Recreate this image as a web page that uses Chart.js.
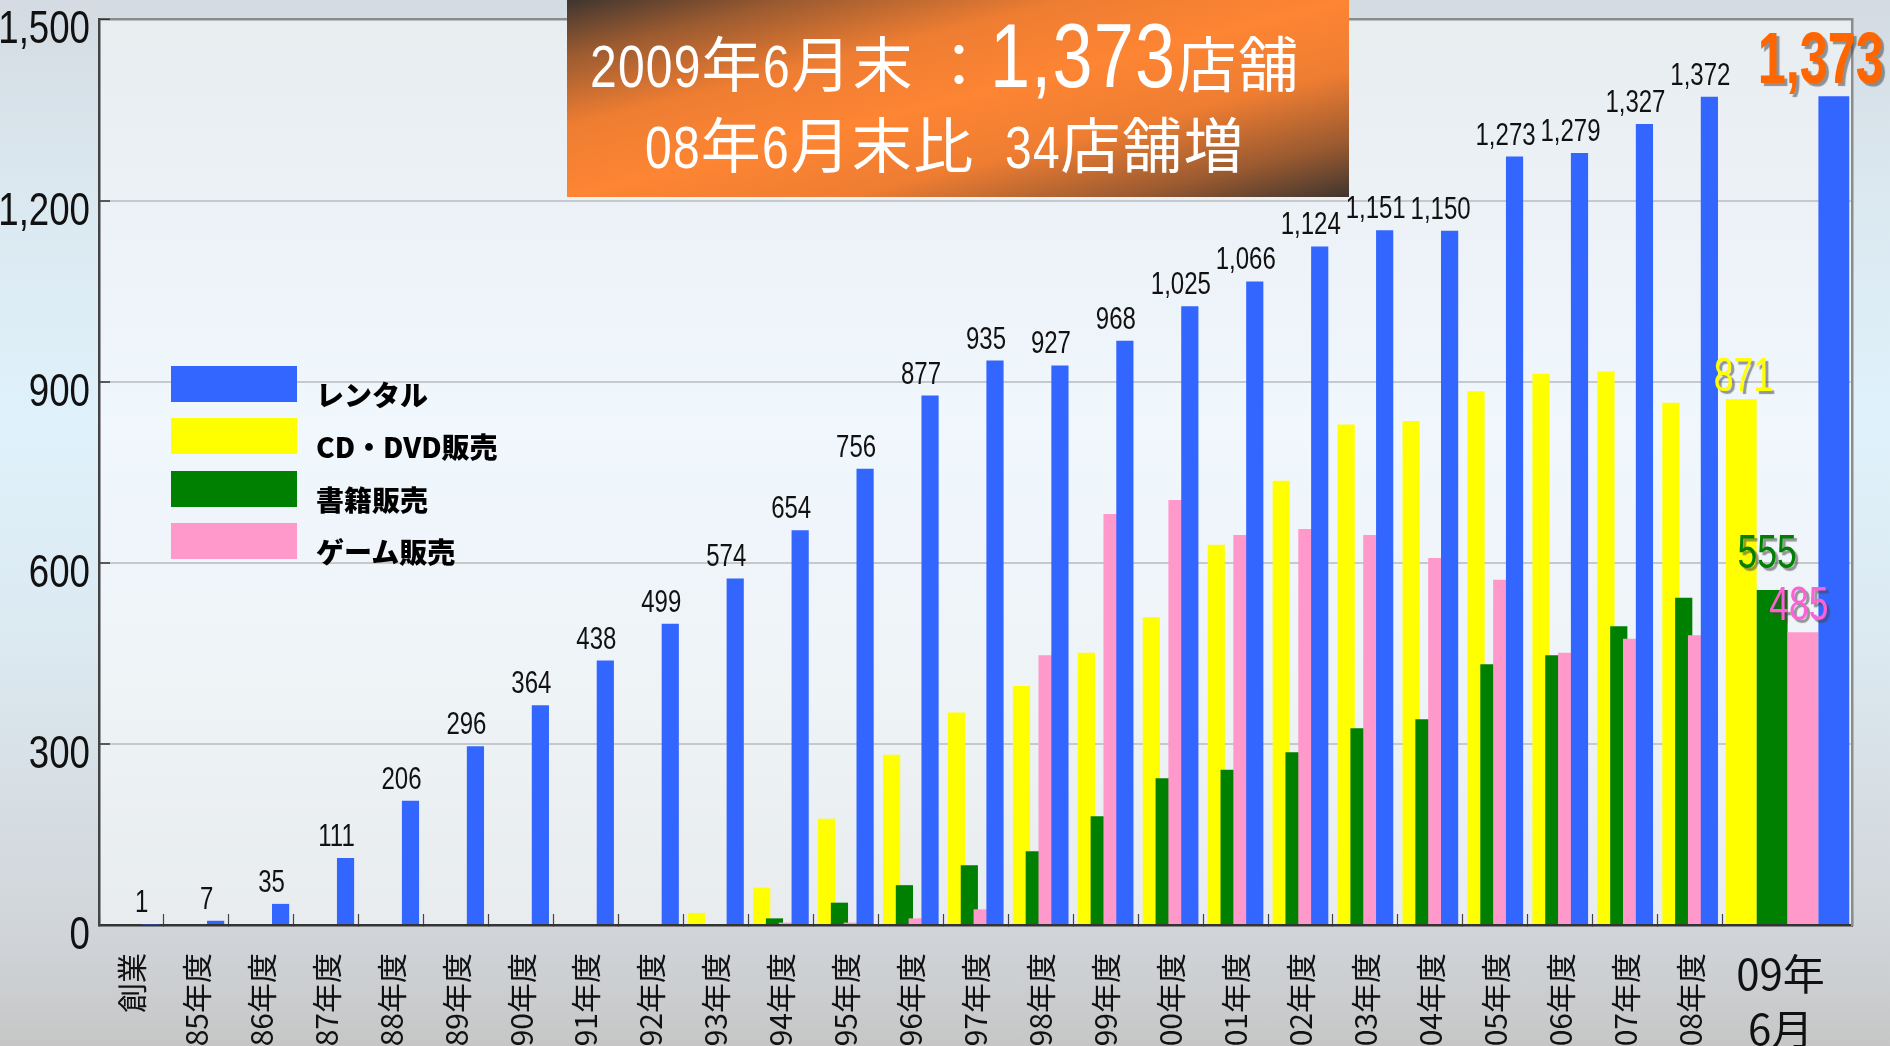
<!DOCTYPE html>
<html lang="ja">
<head>
<meta charset="utf-8">
<title>店舗数の推移</title>
<script src="https://cdn.jsdelivr.net/npm/chart.js@4.4.1/dist/chart.umd.min.js"></script>
<style>
  html, body { margin: 0; padding: 0; }
  body {
    width: 1890px; height: 1046px; overflow: hidden; position: relative;
    background: linear-gradient(to bottom, #d4dbe2 0%, #dbe8f0 18%, #dff1fb 40%, #dceaf2 60%, #d6dde2 78%, #d0d4d8 90%, #c6c6c6 100%);
    font-family: 'Noto Sans CJK JP', sans-serif;
  }
  #chart { position: absolute; left: 0; top: 0; }
  #headline {
    position: absolute; left: 567px; top: 0; width: 782px; height: 197px;
    background: linear-gradient(to bottom right, #3f3530 0%, #9a5a30 14%, #ee7d32 32%, #fd8533 50%, #ee7d32 68%, #9a5a30 86%, #3f3530 100%);
    color: #fff;
    font-family: 'Noto Sans CJK JP', sans-serif;
  }
  #headline .line {
    position: absolute; white-space: pre; font-size: 60px; line-height: 60px; letter-spacing: 1.5px;
  }
  #headline .l1 { left: 23px; top: 31px; }
  #headline .l2 { left: 78px; top: 112px; }
  #headline .n { font-family: 'Liberation Sans', Arial, sans-serif; }
  #headline .big { font-size: 90px; line-height: 0; }
  #legend { position: absolute; left: 171px; top: 366px; }
  #legend .item { position: relative; height: 52.3px; }
  #legend .swatch { position: absolute; left: 0; top: 0; width: 126px; height: 36px; }
  #legend .name {
    position: absolute; left: 145px; top: 8px; line-height: 36px; white-space: nowrap;
    font: 900 28px 'Noto Sans CJK JP', sans-serif; color: #000;
  }
</style>
</head>
<body>
<canvas id="chart" width="1890" height="1046"></canvas>
<div id="headline">
  <div class="line l1"><span class="n">2009</span>年<span class="n">6</span>月末 ：<span class="n big">1,373</span>店舗</div>
  <div class="line l2"><span class="n">08</span>年<span class="n">6</span>月末比  <span class="n">34</span>店舗増</div>
</div>
<div id="legend"></div>
<script>
// 年度ごとの店舗数
const categories = ['創業', '85年度', '86年度', '87年度', '88年度', '89年度', '90年度', '91年度', '92年度',
  '93年度', '94年度', '95年度', '96年度', '97年度', '98年度', '99年度', '00年度', '01年度', '02年度',
  '03年度', '04年度', '05年度', '06年度', '07年度', '08年度'];
const latestLabel = ['09年', '6月'];

const seriesNames = ['レンタル', 'CD・DVD販売', '書籍販売', 'ゲーム販売'];
const seriesColors = ['#3366ff', '#ffff00', '#008000', '#ff99cc'];

const rental = [1, 7, 35, 111, 206, 296, 364, 438, 499, 574, 654, 756, 877, 935, 927, 968,
  1025, 1066, 1124, 1151, 1150, 1273, 1279, 1327, 1372];
const cdDvd = [0, 0, 0, 0, 0, 0, 0, 0, 0, 20, 62, 176, 282, 352, 396, 451,
  510, 630, 736, 829, 835, 884, 913, 917, 865];
const books = [0, 0, 0, 0, 0, 0, 0, 0, 0, 0, 11, 37, 66, 99, 122, 180,
  243, 257, 286, 326, 341, 432, 447, 495, 542];
const games = [0, 0, 0, 0, 0, 0, 0, 0, 0, 0, 4, 4, 11, 26, 447, 681,
  704, 646, 656, 646, 608, 572, 451, 474, 480];
// 2009年6月末 (レンタル, CD・DVD, 書籍, ゲーム)
const latest = [1373, 871, 555, 485];

const yTicks = [0, 300, 600, 900, 1200, 1500];

const NUM = "'Liberation Sans', Arial, sans-serif";
const CJK = "'Noto Sans CJK JP', sans-serif";
const SQUEEZE = 0.78; // numbers in the original use a condensed face

const seriesValues = [rental, cdDvd, books, games];
const slotOrder = [1, 2, 3, 0];          // bars left to right: CD, books, games, rental
const lastPos = categories.length + 0.5; // 09年6月 takes two slots
const xMin = -0.5;
const xMax = categories.length + 1.5;
const boundaries = categories.map((c, i) => i - 0.5).concat([categories.length - 0.5, xMax]);

// label look for the 09年6月 values
const latestStyle = [
  { color: '#ff6600', font: 'bold 72px ' + NUM, squeeze: 0.7, dx: -13, gap: 13 },
  { color: '#ffff00', font: '48px ' + NUM, squeeze: 0.74, dx: 2, gap: 8 },
  { color: '#008000', font: '48px ' + NUM, squeeze: 0.74, dx: -5, gap: 22 },
  { color: '#ff5fd7', font: '48px ' + NUM, squeeze: 0.74, dx: -4, gap: 12 }
];

const fmt = v => v.toLocaleString('en-US');

const datasets = [];
slotOrder.forEach(s => {
  const pts = seriesValues[s].map((v, i) => ({ x: i, y: v }));
  pts.push({ x: lastPos, y: null });
  datasets.push({
    label: seriesNames[s], data: pts, backgroundColor: seriesColors[s],
    xAxisID: 'x', yAxisID: 'y', skipNull: true,
    categoryPercentage: 0.79, barPercentage: 1.34
  });
});
slotOrder.forEach(s => {
  const pts = categories.map((c, i) => ({ x: i, y: null }));
  pts.push({ x: lastPos, y: latest[s] });
  datasets.push({
    label: seriesNames[s] + '（09年6月）', data: pts, backgroundColor: seriesColors[s],
    xAxisID: 'x', yAxisID: 'y', skipNull: true,
    categoryPercentage: 1.9, barPercentage: 1
  });
});

const plotBackground = {
  id: 'plotBackground',
  beforeDraw(chart) {
    const { ctx, chartArea: a } = chart;
    const g = ctx.createLinearGradient(0, a.top, 0, a.bottom);
    g.addColorStop(0, '#e8edf0');
    g.addColorStop(0.45, '#f0f7fd');
    g.addColorStop(0.75, '#eef3f6');
    g.addColorStop(1, '#e8ecee');
    ctx.save();
    ctx.fillStyle = g;
    ctx.fillRect(a.left, a.top, a.right - a.left, a.bottom - a.top);
    ctx.restore();
  }
};

// y tick labels drawn narrower around their right edge
const condenseY = {
  id: 'condenseY',
  beforeDraw(chart) {
    const sc = chart.scales.y;
    if (sc.$condensed) return;
    const drawLabels = sc.drawLabels.bind(sc);
    sc._computeLabelArea = () => undefined;
    sc.drawLabels = function (area) {
      const ctx = this.ctx;
      const ax = this.right - (this.options.grid.tickLength + this.options.ticks.padding);
      ctx.save();
      ctx.translate(ax, 0);
      ctx.scale(SQUEEZE, 1);
      ctx.translate(-ax, 0);
      drawLabels(area);
      ctx.restore();
    };
    sc.$condensed = true;
  }
};

// later series sit on top of the earlier ones where bars overlap
const drawOrder = {
  id: 'drawOrder',
  beforeDatasetsDraw(chart) {
    chart.getSortedVisibleDatasetMetas().forEach(meta => meta.controller.draw());
    return false;
  }
};

function squeezedText(ctx, text, x, y, squeeze) {
  ctx.save();
  ctx.translate(x, y);
  ctx.scale(squeeze, 1);
  ctx.fillText(text, 0, 0);
  ctx.restore();
}

const valueLabels = {
  id: 'valueLabels',
  afterDraw(chart) {
    const ctx = chart.ctx;
    ctx.save();
    ctx.textAlign = 'center';
    ctx.textBaseline = 'alphabetic';
    ctx.font = '32px ' + NUM;
    ctx.fillStyle = '#111';
    const rentalMeta = chart.getDatasetMeta(slotOrder.indexOf(0));
    rental.forEach((v, i) => {
      const bar = rentalMeta.data[i];
      squeezedText(ctx, fmt(v), bar.x - 9, bar.y - 12, 0.75);
    });
    ctx.shadowColor = 'rgba(70,70,70,0.55)';
    ctx.shadowOffsetX = 3;
    ctx.shadowOffsetY = 3;
    ctx.shadowBlur = 1;
    slotOrder.forEach((s, k) => {
      const bar = chart.getDatasetMeta(slotOrder.length + k).data[categories.length];
      const st = latestStyle[s];
      ctx.font = st.font;
      ctx.fillStyle = st.color;
      squeezedText(ctx, fmt(latest[s]), bar.x + st.dx, bar.y - st.gap, st.squeeze);
    });
    ctx.restore();
  }
};

const chart = new Chart(document.getElementById('chart'), {
  type: 'bar',
  data: { datasets },
  options: {
    responsive: false,
    animation: false,
    locale: 'en-US',
    layout: { padding: { top: 19.5, right: 37.5, left: 0, bottom: 0 } },
    plugins: { legend: { display: false }, tooltip: { enabled: false } },
    scales: {
      x: {
        type: 'linear', position: 'bottom', min: xMin, max: xMax, offset: false,
        afterBuildTicks: s => { s.ticks = boundaries.map(value => ({ value })); },
        afterFit: s => { s.height = 0; s.paddingLeft = 0; s.paddingRight = 0; },
        ticks: { display: false },
        grid: { offset: false, drawOnChartArea: false, tickLength: -11, tickColor: '#444', tickWidth: 1.2 },
        border: { color: '#333', width: 2.5 }
      },
      xl: {
        axis: 'x', type: 'linear', position: 'bottom', min: xMin, max: xMax, offset: false,
        afterBuildTicks: s => { s.ticks = categories.map((c, i) => ({ value: i })); },
        afterFit: s => { s.height = 121; s.paddingLeft = 0; s.paddingRight = 0; },
        grid: { display: false, offset: false },
        border: { display: false },
        ticks: {
          autoSkip: false, minRotation: 90, maxRotation: 90, padding: 20, color: '#111',
          font: { family: CJK, size: 30 },
          callback: v => categories[v] ?? ''
        }
      },
      xl2: {
        axis: 'x', type: 'linear', position: { y: 0 }, min: xMin, max: xMax, offset: false,
        afterBuildTicks: s => { s.ticks = [{ value: lastPos }]; },
        afterFit: s => { s.paddingLeft = 0; s.paddingRight = 0; },
        grid: { display: false, offset: false },
        border: { display: false },
        ticks: {
          autoSkip: false, minRotation: 0, maxRotation: 0, padding: 14, labelOffset: -7, color: '#111',
          font: { family: CJK, size: 42, lineHeight: 1.3 },
          callback: () => latestLabel
        }
      },
      y: {
        type: 'linear', position: 'left', min: 0, max: 1500,
        afterBuildTicks: s => { s.ticks = yTicks.map(value => ({ value })); },
        afterFit: s => { s.width = 99; s.paddingTop = 0; s.paddingBottom = 0; },
        ticks: {
          padding: 20, labelOffset: 11, color: '#111',
          font: { family: NUM, size: 47 },
          callback: v => fmt(v)
        },
        grid: {
          color: c => (c.tick && c.tick.value === 1500) ? '#8c8c8c' : '#c5c9cd',
          lineWidth: c => (c.tick && c.tick.value === 1500) ? 2.5 : 2,
          tickLength: -11, tickColor: '#333', tickWidth: 1.5
        },
        border: { color: '#444', width: 2.5 }
      },
      yr: {
        axis: 'y', type: 'linear', position: { x: xMax }, min: 0, max: 1500,
        afterFit: s => { s.paddingTop = 0; s.paddingBottom = 0; },
        ticks: { display: false },
        grid: { display: false },
        border: { color: '#8c8c8c', width: 2.5 }
      }
    }
  },
  plugins: [plotBackground, condenseY, drawOrder, valueLabels]
});

// legend built from the chart's own datasets, in the original order
const legendEl = document.getElementById('legend');
seriesNames.forEach((name, s) => {
  const ds = chart.data.datasets[slotOrder.indexOf(s)];
  const item = document.createElement('div');
  item.className = 'item';
  item.innerHTML = '<div class="swatch" style="background:' + ds.backgroundColor + '"></div>' +
    '<div class="name">' + ds.label + '</div>';
  legendEl.appendChild(item);
});

// narrow figures in the headline, like the original's condensed face
document.querySelectorAll('#headline .n').forEach(el => {
  el.style.display = 'inline-block';
  const w = el.getBoundingClientRect().width;
  el.style.transformOrigin = '0 0';
  el.style.transform = 'scaleX(0.8)';
  el.style.marginRight = (-0.2 * w) + 'px';
});
</script>
</body>
</html>
